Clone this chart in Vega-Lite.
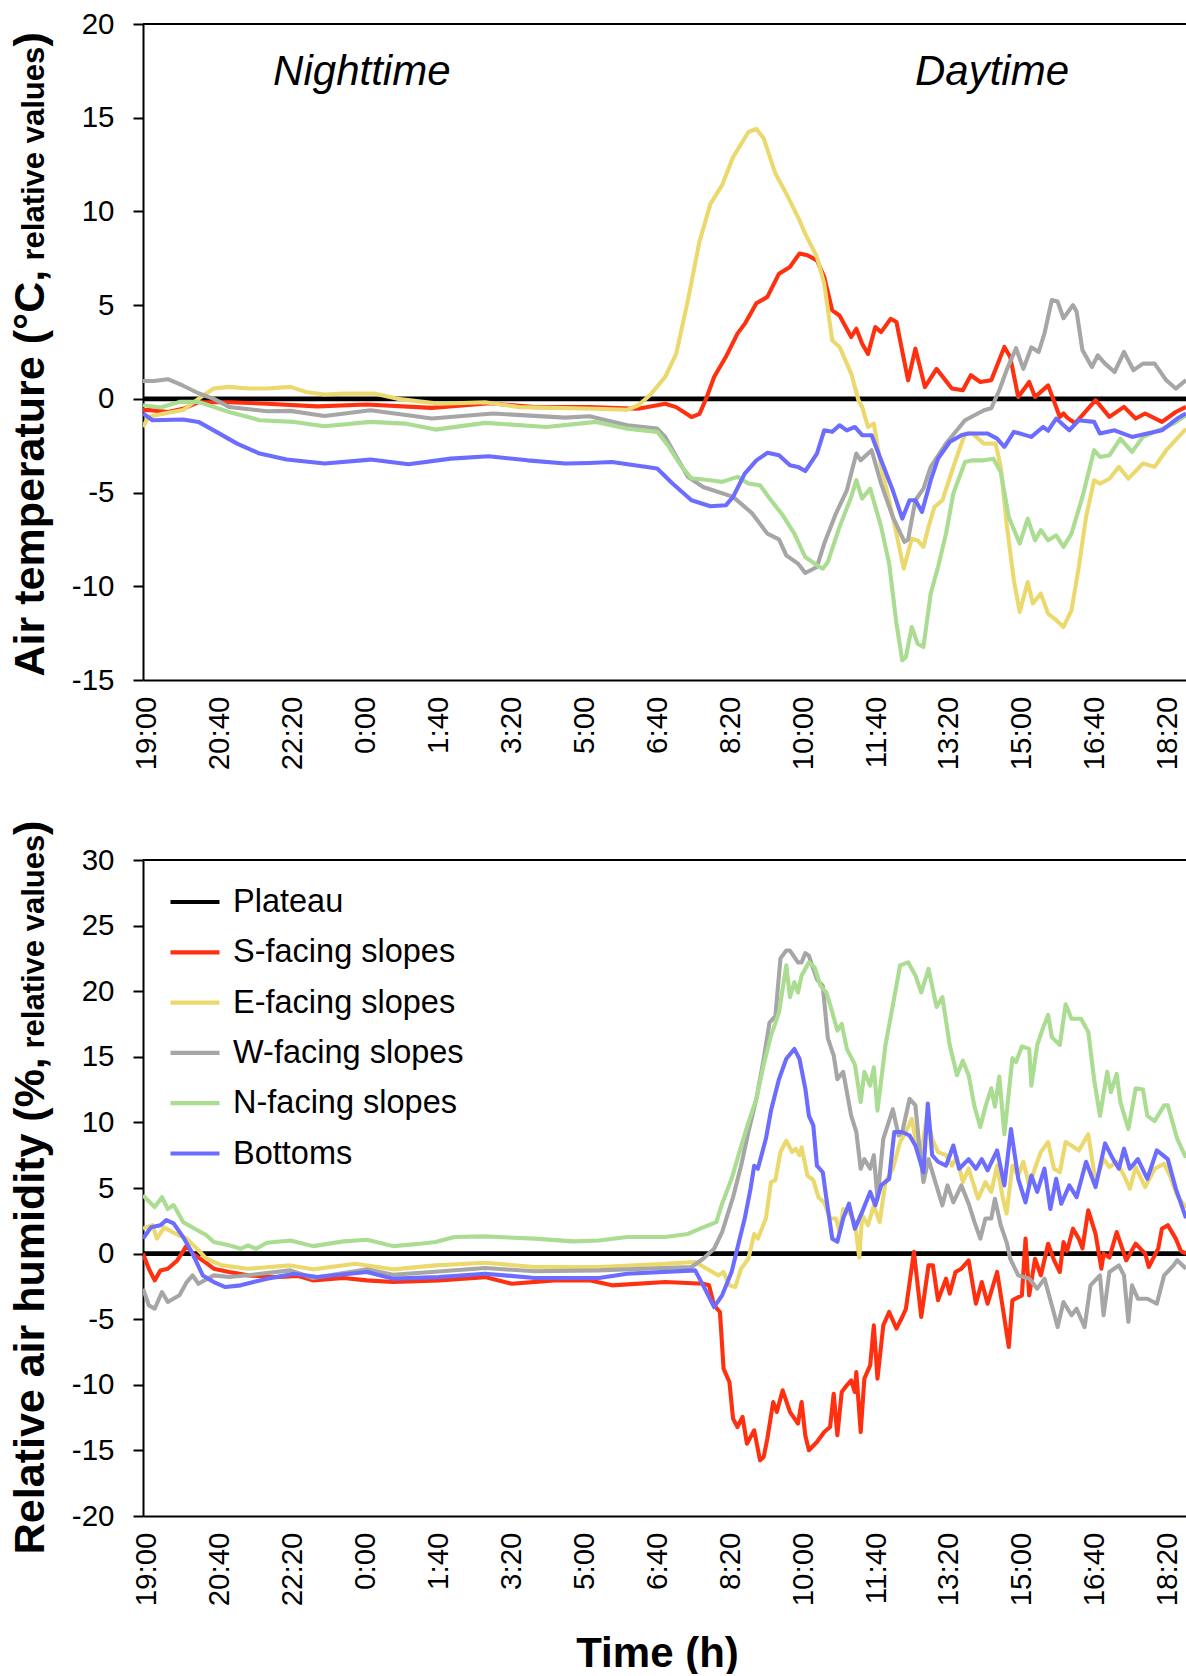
{
"$schema": "https://vega.github.io/schema/vega-lite/v6.json",
"padding": {"left": 9, "top": 9, "right": 0, "bottom": 0},
"spacing": 50,
"config": {"font": "Liberation Sans", "view": {"stroke": null}, "axis": {"labelColor": "black", "titleColor": "black", "grid": false}},
"resolve": {"scale": {"color": "independent"}, "legend": {"color": "independent"}},
"datasets": {
"temp": [
{"s":"P","t":-5,"v":0},{"s":"P","t":1425,"v":0},
{"s":"S","t":-5,"v":-0.6},{"s":"S","t":5,"v":-0.6},{"s":"S","t":29,"v":-0.7},{"s":"S","t":50,"v":-0.53},{"s":"S","t":71,"v":-0.18},{"s":"S","t":113,"v":-0.18},{"s":"S","t":165,"v":-0.26},{"s":"S","t":234,"v":-0.4},{"s":"S","t":302,"v":-0.3},{"s":"S","t":391,"v":-0.48},{"s":"S","t":470,"v":-0.23},{"s":"S","t":532,"v":-0.44},{"s":"S","t":607,"v":-0.44},{"s":"S","t":674,"v":-0.53},{"s":"S","t":711,"v":-0.26},{"s":"S","t":726,"v":-0.44},{"s":"S","t":747,"v":-0.97},{"s":"S","t":758,"v":-0.8},{"s":"S","t":768,"v":0.1},{"s":"S","t":778,"v":1.17},{"s":"S","t":794,"v":2.23},{"s":"S","t":810,"v":3.48},{"s":"S","t":820,"v":4.0},{"s":"S","t":836,"v":5.1},{"s":"S","t":851,"v":5.44},{"s":"S","t":867,"v":6.68},{"s":"S","t":882,"v":7.04},{"s":"S","t":895,"v":7.75},{"s":"S","t":906,"v":7.66},{"s":"S","t":919,"v":7.39},{"s":"S","t":929,"v":6.5},{"s":"S","t":940,"v":4.72},{"s":"S","t":950,"v":4.45},{"s":"S","t":966,"v":3.3},{"s":"S","t":973,"v":3.74},{"s":"S","t":981,"v":2.94},{"s":"S","t":989,"v":2.4},{"s":"S","t":999,"v":3.83},{"s":"S","t":1007,"v":3.56},{"s":"S","t":1020,"v":4.27},{"s":"S","t":1028,"v":4.1},{"s":"S","t":1044,"v":0.99},{"s":"S","t":1054,"v":2.68},{"s":"S","t":1067,"v":0.63},{"s":"S","t":1083,"v":1.6},{"s":"S","t":1104,"v":0.55},{"s":"S","t":1119,"v":0.46},{"s":"S","t":1130,"v":1.26},{"s":"S","t":1143,"v":0.9},{"s":"S","t":1158,"v":0.99},{"s":"S","t":1176,"v":2.77},{"s":"S","t":1184,"v":2.23},{"s":"S","t":1195,"v":0.1},{"s":"S","t":1210,"v":0.9},{"s":"S","t":1218,"v":0.1},{"s":"S","t":1236,"v":0.72},{"s":"S","t":1252,"v":-0.97},{"s":"S","t":1257,"v":-0.78},{"s":"S","t":1262,"v":-1.0},{"s":"S","t":1273,"v":-1.3},{"s":"S","t":1283,"v":-0.87},{"s":"S","t":1301,"v":-0.07},{"s":"S","t":1320,"v":-0.96},{"s":"S","t":1340,"v":-0.43},{"s":"S","t":1356,"v":-1.05},{"s":"S","t":1369,"v":-0.78},{"s":"S","t":1392,"v":-1.23},{"s":"S","t":1411,"v":-0.7},{"s":"S","t":1425,"v":-0.43},
{"s":"E","t":-5,"v":-1.5},{"s":"E","t":3,"v":-0.96},{"s":"E","t":24,"v":-0.78},{"s":"E","t":50,"v":-0.6},{"s":"E","t":71,"v":0},{"s":"E","t":92,"v":0.55},{"s":"E","t":113,"v":0.64},{"s":"E","t":139,"v":0.55},{"s":"E","t":165,"v":0.55},{"s":"E","t":197,"v":0.64},{"s":"E","t":218,"v":0.37},{"s":"E","t":244,"v":0.23},{"s":"E","t":270,"v":0.28},{"s":"E","t":312,"v":0.28},{"s":"E","t":344,"v":0.0},{"s":"E","t":402,"v":-0.26},{"s":"E","t":464,"v":-0.18},{"s":"E","t":511,"v":-0.44},{"s":"E","t":616,"v":-0.53},{"s":"E","t":659,"v":-0.58},{"s":"E","t":674,"v":-0.34},{"s":"E","t":690,"v":0.19},{"s":"E","t":711,"v":1.17},{"s":"E","t":726,"v":2.4},{"s":"E","t":742,"v":5.24},{"s":"E","t":758,"v":8.4},{"s":"E","t":773,"v":10.4},{"s":"E","t":789,"v":11.4},{"s":"E","t":804,"v":12.9},{"s":"E","t":815,"v":13.6},{"s":"E","t":825,"v":14.24},{"s":"E","t":836,"v":14.4},{"s":"E","t":846,"v":13.9},{"s":"E","t":862,"v":12.02},{"s":"E","t":877,"v":10.95},{"s":"E","t":893,"v":9.7},{"s":"E","t":903,"v":8.8},{"s":"E","t":919,"v":7.57},{"s":"E","t":929,"v":6.14},{"s":"E","t":940,"v":3.12},{"s":"E","t":950,"v":2.77},{"s":"E","t":966,"v":1.35},{"s":"E","t":976,"v":-0.08},{"s":"E","t":981,"v":-0.43},{"s":"E","t":989,"v":-1.5},{"s":"E","t":997,"v":-1.32},{"s":"E","t":1007,"v":-3.63},{"s":"E","t":1018,"v":-5.41},{"s":"E","t":1028,"v":-7.19},{"s":"E","t":1038,"v":-9.06},{"s":"E","t":1049,"v":-7.46},{"s":"E","t":1057,"v":-7.55},{"s":"E","t":1065,"v":-7.9},{"s":"E","t":1072,"v":-6.83},{"s":"E","t":1080,"v":-5.77},{"s":"E","t":1091,"v":-5.41},{"s":"E","t":1106,"v":-3.63},{"s":"E","t":1122,"v":-1.85},{"s":"E","t":1132,"v":-1.85},{"s":"E","t":1148,"v":-2.39},{"s":"E","t":1164,"v":-2.39},{"s":"E","t":1171,"v":-3.63},{"s":"E","t":1179,"v":-6.65},{"s":"E","t":1189,"v":-9.68},{"s":"E","t":1197,"v":-11.37},{"s":"E","t":1208,"v":-9.77},{"s":"E","t":1215,"v":-10.92},{"s":"E","t":1226,"v":-10.39},{"s":"E","t":1236,"v":-11.46},{"s":"E","t":1247,"v":-11.8},{"s":"E","t":1257,"v":-12.17},{"s":"E","t":1268,"v":-11.28},{"s":"E","t":1278,"v":-8.97},{"s":"E","t":1288,"v":-6.3},{"s":"E","t":1299,"v":-4.34},{"s":"E","t":1307,"v":-4.52},{"s":"E","t":1320,"v":-4.26},{"s":"E","t":1333,"v":-3.63},{"s":"E","t":1346,"v":-4.26},{"s":"E","t":1366,"v":-3.45},{"s":"E","t":1382,"v":-3.63},{"s":"E","t":1398,"v":-2.74},{"s":"E","t":1425,"v":-1.6},
{"s":"W","t":-5,"v":0.95},{"s":"W","t":10,"v":0.95},{"s":"W","t":29,"v":1.05},{"s":"W","t":50,"v":0.7},{"s":"W","t":71,"v":0.3},{"s":"W","t":92,"v":0.0},{"s":"W","t":113,"v":-0.43},{"s":"W","t":165,"v":-0.66},{"s":"W","t":197,"v":-0.64},{"s":"W","t":244,"v":-0.91},{"s":"W","t":307,"v":-0.61},{"s":"W","t":391,"v":-1.05},{"s":"W","t":475,"v":-0.78},{"s":"W","t":574,"v":-1.0},{"s":"W","t":607,"v":-0.93},{"s":"W","t":659,"v":-1.41},{"s":"W","t":700,"v":-1.59},{"s":"W","t":711,"v":-2.03},{"s":"W","t":742,"v":-4.16},{"s":"W","t":763,"v":-4.7},{"s":"W","t":804,"v":-5.23},{"s":"W","t":830,"v":-6.1},{"s":"W","t":851,"v":-7.19},{"s":"W","t":867,"v":-7.5},{"s":"W","t":877,"v":-8.35},{"s":"W","t":893,"v":-8.79},{"s":"W","t":903,"v":-9.29},{"s":"W","t":919,"v":-8.97},{"s":"W","t":929,"v":-7.72},{"s":"W","t":945,"v":-6.12},{"s":"W","t":960,"v":-4.88},{"s":"W","t":973,"v":-2.92},{"s":"W","t":979,"v":-3.28},{"s":"W","t":994,"v":-2.74},{"s":"W","t":1007,"v":-4.52},{"s":"W","t":1023,"v":-6.3},{"s":"W","t":1039,"v":-7.63},{"s":"W","t":1044,"v":-7.5},{"s":"W","t":1054,"v":-5.41},{"s":"W","t":1065,"v":-4.79},{"s":"W","t":1075,"v":-3.63},{"s":"W","t":1096,"v":-2.39},{"s":"W","t":1122,"v":-1.14},{"s":"W","t":1148,"v":-0.61},{"s":"W","t":1158,"v":-0.5},{"s":"W","t":1169,"v":0.46},{"s":"W","t":1179,"v":1.53},{"s":"W","t":1192,"v":2.7},{"s":"W","t":1202,"v":1.6},{"s":"W","t":1213,"v":2.75},{"s":"W","t":1223,"v":2.5},{"s":"W","t":1231,"v":3.5},{"s":"W","t":1241,"v":5.27},{"s":"W","t":1249,"v":5.19},{"s":"W","t":1257,"v":4.3},{"s":"W","t":1270,"v":5.0},{"s":"W","t":1275,"v":4.66},{"s":"W","t":1283,"v":2.6},{"s":"W","t":1296,"v":1.7},{"s":"W","t":1304,"v":2.32},{"s":"W","t":1314,"v":1.88},{"s":"W","t":1327,"v":1.43},{"s":"W","t":1340,"v":2.5},{"s":"W","t":1353,"v":1.53},{"s":"W","t":1366,"v":1.88},{"s":"W","t":1382,"v":1.88},{"s":"W","t":1398,"v":0.99},{"s":"W","t":1411,"v":0.55},{"s":"W","t":1425,"v":1.0},
{"s":"N","t":-5,"v":-0.34},{"s":"N","t":19,"v":-0.46},{"s":"N","t":45,"v":-0.16},{"s":"N","t":71,"v":-0.16},{"s":"N","t":113,"v":-0.7},{"s":"N","t":155,"v":-1.14},{"s":"N","t":202,"v":-1.23},{"s":"N","t":244,"v":-1.46},{"s":"N","t":307,"v":-1.23},{"s":"N","t":354,"v":-1.32},{"s":"N","t":396,"v":-1.64},{"s":"N","t":464,"v":-1.28},{"s":"N","t":548,"v":-1.5},{"s":"N","t":616,"v":-1.23},{"s":"N","t":659,"v":-1.59},{"s":"N","t":700,"v":-1.76},{"s":"N","t":716,"v":-2.56},{"s":"N","t":732,"v":-3.54},{"s":"N","t":747,"v":-4.24},{"s":"N","t":773,"v":-4.34},{"s":"N","t":789,"v":-4.43},{"s":"N","t":810,"v":-4.16},{"s":"N","t":825,"v":-4.52},{"s":"N","t":841,"v":-4.61},{"s":"N","t":856,"v":-5.41},{"s":"N","t":872,"v":-6.2},{"s":"N","t":888,"v":-7.19},{"s":"N","t":903,"v":-8.44},{"s":"N","t":919,"v":-8.88},{"s":"N","t":927,"v":-9.06},{"s":"N","t":934,"v":-8.7},{"s":"N","t":950,"v":-6.83},{"s":"N","t":966,"v":-5.23},{"s":"N","t":973,"v":-4.34},{"s":"N","t":981,"v":-5.32},{"s":"N","t":992,"v":-4.79},{"s":"N","t":1007,"v":-6.83},{"s":"N","t":1018,"v":-8.79},{"s":"N","t":1028,"v":-11.99},{"s":"N","t":1036,"v":-13.95},{"s":"N","t":1041,"v":-13.77},{"s":"N","t":1049,"v":-12.17},{"s":"N","t":1057,"v":-13.06},{"s":"N","t":1065,"v":-13.24},{"s":"N","t":1075,"v":-10.39},{"s":"N","t":1085,"v":-8.97},{"s":"N","t":1096,"v":-7.19},{"s":"N","t":1106,"v":-5.05},{"s":"N","t":1122,"v":-3.37},{"s":"N","t":1132,"v":-3.28},{"s":"N","t":1148,"v":-3.28},{"s":"N","t":1161,"v":-3.19},{"s":"N","t":1171,"v":-3.9},{"s":"N","t":1182,"v":-6.3},{"s":"N","t":1197,"v":-7.72},{"s":"N","t":1208,"v":-6.39},{"s":"N","t":1218,"v":-7.55},{"s":"N","t":1226,"v":-7.0},{"s":"N","t":1236,"v":-7.55},{"s":"N","t":1247,"v":-7.28},{"s":"N","t":1257,"v":-7.9},{"s":"N","t":1268,"v":-7.19},{"s":"N","t":1283,"v":-5.23},{"s":"N","t":1299,"v":-2.74},{"s":"N","t":1307,"v":-3.1},{"s":"N","t":1320,"v":-3.01},{"s":"N","t":1335,"v":-2.12},{"s":"N","t":1351,"v":-2.83},{"s":"N","t":1366,"v":-2.03},{"s":"N","t":1387,"v":-1.68},{"s":"N","t":1408,"v":-1.32},{"s":"N","t":1425,"v":-0.87},
{"s":"B","t":-5,"v":-0.78},{"s":"B","t":8,"v":-1.14},{"s":"B","t":50,"v":-1.1},{"s":"B","t":71,"v":-1.23},{"s":"B","t":92,"v":-1.68},{"s":"B","t":124,"v":-2.39},{"s":"B","t":155,"v":-2.92},{"s":"B","t":192,"v":-3.24},{"s":"B","t":244,"v":-3.45},{"s":"B","t":307,"v":-3.24},{"s":"B","t":359,"v":-3.49},{"s":"B","t":417,"v":-3.19},{"s":"B","t":469,"v":-3.06},{"s":"B","t":522,"v":-3.28},{"s":"B","t":574,"v":-3.45},{"s":"B","t":607,"v":-3.42},{"s":"B","t":638,"v":-3.37},{"s":"B","t":700,"v":-3.72},{"s":"B","t":721,"v":-4.52},{"s":"B","t":747,"v":-5.41},{"s":"B","t":773,"v":-5.73},{"s":"B","t":794,"v":-5.68},{"s":"B","t":804,"v":-5.23},{"s":"B","t":820,"v":-3.99},{"s":"B","t":836,"v":-3.28},{"s":"B","t":851,"v":-2.88},{"s":"B","t":867,"v":-3.01},{"s":"B","t":882,"v":-3.54},{"s":"B","t":893,"v":-3.63},{"s":"B","t":903,"v":-3.85},{"s":"B","t":919,"v":-2.92},{"s":"B","t":929,"v":-1.68},{"s":"B","t":940,"v":-1.76},{"s":"B","t":950,"v":-1.41},{"s":"B","t":960,"v":-1.68},{"s":"B","t":971,"v":-1.5},{"s":"B","t":981,"v":-1.94},{"s":"B","t":994,"v":-1.94},{"s":"B","t":1007,"v":-3.28},{"s":"B","t":1023,"v":-4.88},{"s":"B","t":1036,"v":-6.39},{"s":"B","t":1046,"v":-5.41},{"s":"B","t":1054,"v":-5.41},{"s":"B","t":1063,"v":-6.03},{"s":"B","t":1075,"v":-4.34},{"s":"B","t":1085,"v":-3.19},{"s":"B","t":1101,"v":-2.3},{"s":"B","t":1117,"v":-1.94},{"s":"B","t":1127,"v":-1.85},{"s":"B","t":1153,"v":-1.85},{"s":"B","t":1166,"v":-2.12},{"s":"B","t":1176,"v":-2.56},{"s":"B","t":1189,"v":-1.76},{"s":"B","t":1213,"v":-2.03},{"s":"B","t":1229,"v":-1.5},{"s":"B","t":1236,"v":-1.7},{"s":"B","t":1247,"v":-1.05},{"s":"B","t":1265,"v":-1.68},{"s":"B","t":1278,"v":-1.14},{"s":"B","t":1299,"v":-1.23},{"s":"B","t":1307,"v":-1.85},{"s":"B","t":1327,"v":-1.68},{"s":"B","t":1351,"v":-2.03},{"s":"B","t":1372,"v":-1.85},{"s":"B","t":1392,"v":-1.68},{"s":"B","t":1413,"v":-1.05},{"s":"B","t":1425,"v":-0.78}
],
"hum": [
{"s":"P","t":-5,"v":0},{"s":"P","t":1425,"v":0},
{"s":"S","t":-5,"v":0},{"s":"S","t":3,"v":-1.15},{"s":"S","t":11,"v":-2.04},{"s":"S","t":19,"v":-1.28},{"s":"S","t":29,"v":-1.15},{"s":"S","t":42,"v":-0.52},{"s":"S","t":55,"v":0.63},{"s":"S","t":63,"v":0},{"s":"S","t":77,"v":-0.52},{"s":"S","t":92,"v":-1.15},{"s":"S","t":113,"v":-1.4},{"s":"S","t":139,"v":-1.66},{"s":"S","t":176,"v":-1.79},{"s":"S","t":208,"v":-1.71},{"s":"S","t":228,"v":-2.04},{"s":"S","t":270,"v":-1.86},{"s":"S","t":302,"v":-2.04},{"s":"S","t":338,"v":-2.17},{"s":"S","t":401,"v":-2.04},{"s":"S","t":464,"v":-1.79},{"s":"S","t":501,"v":-2.3},{"s":"S","t":559,"v":-2.04},{"s":"S","t":607,"v":-2.04},{"s":"S","t":638,"v":-2.42},{"s":"S","t":711,"v":-2.17},{"s":"S","t":763,"v":-2.3},{"s":"S","t":771,"v":-2.42},{"s":"S","t":778,"v":-3.94},{"s":"S","t":786,"v":-4.45},{"s":"S","t":791,"v":-8.77},{"s":"S","t":799,"v":-9.79},{"s":"S","t":804,"v":-12.58},{"s":"S","t":810,"v":-13.22},{"s":"S","t":817,"v":-12.45},{"s":"S","t":823,"v":-14.49},{"s":"S","t":833,"v":-13.47},{"s":"S","t":841,"v":-15.76},{"s":"S","t":846,"v":-15.5},{"s":"S","t":851,"v":-14.1},{"s":"S","t":859,"v":-11.31},{"s":"S","t":864,"v":-12.07},{"s":"S","t":872,"v":-10.42},{"s":"S","t":882,"v":-12.07},{"s":"S","t":893,"v":-12.96},{"s":"S","t":898,"v":-11.31},{"s":"S","t":903,"v":-13.85},{"s":"S","t":908,"v":-14.99},{"s":"S","t":919,"v":-14.36},{"s":"S","t":929,"v":-13.6},{"s":"S","t":937,"v":-13.22},{"s":"S","t":942,"v":-10.68},{"s":"S","t":947,"v":-13.85},{"s":"S","t":953,"v":-10.55},{"s":"S","t":960,"v":-10.04},{"s":"S","t":966,"v":-9.66},{"s":"S","t":971,"v":-10.55},{"s":"S","t":973,"v":-9.03},{"s":"S","t":979,"v":-13.6},{"s":"S","t":984,"v":-9.53},{"s":"S","t":992,"v":-8.52},{"s":"S","t":997,"v":-5.47},{"s":"S","t":1002,"v":-9.53},{"s":"S","t":1010,"v":-5.47},{"s":"S","t":1018,"v":-4.45},{"s":"S","t":1028,"v":-5.72},{"s":"S","t":1036,"v":-4.83},{"s":"S","t":1041,"v":-4.2},{"s":"S","t":1052,"v":0.13},{"s":"S","t":1062,"v":-4.83},{"s":"S","t":1072,"v":-0.9},{"s":"S","t":1078,"v":-0.9},{"s":"S","t":1085,"v":-3.56},{"s":"S","t":1096,"v":-1.91},{"s":"S","t":1101,"v":-3.05},{"s":"S","t":1109,"v":-1.4},{"s":"S","t":1117,"v":-1.15},{"s":"S","t":1127,"v":-0.52},{"s":"S","t":1137,"v":-3.82},{"s":"S","t":1145,"v":-2.17},{"s":"S","t":1153,"v":-3.82},{"s":"S","t":1166,"v":-1.4},{"s":"S","t":1174,"v":-4.2},{"s":"S","t":1182,"v":-7.12},{"s":"S","t":1187,"v":-3.56},{"s":"S","t":1200,"v":-3.18},{"s":"S","t":1205,"v":1.14},{"s":"S","t":1210,"v":-3.18},{"s":"S","t":1218,"v":-0.39},{"s":"S","t":1226,"v":-1.66},{"s":"S","t":1236,"v":0.75},{"s":"S","t":1244,"v":-0.5},{"s":"S","t":1252,"v":-1.4},{"s":"S","t":1257,"v":0.88},{"s":"S","t":1262,"v":0.2},{"s":"S","t":1270,"v":1.9},{"s":"S","t":1278,"v":1.14},{"s":"S","t":1283,"v":0.4},{"s":"S","t":1291,"v":3.3},{"s":"S","t":1301,"v":1.5},{"s":"S","t":1309,"v":-1.15},{"s":"S","t":1312,"v":0},{"s":"S","t":1320,"v":-0.3},{"s":"S","t":1330,"v":1.64},{"s":"S","t":1340,"v":0},{"s":"S","t":1343,"v":-0.52},{"s":"S","t":1356,"v":0.75},{"s":"S","t":1369,"v":0},{"s":"S","t":1374,"v":-1.02},{"s":"S","t":1387,"v":0.4},{"s":"S","t":1392,"v":1.9},{"s":"S","t":1400,"v":2.17},{"s":"S","t":1411,"v":1.14},{"s":"S","t":1418,"v":0.2},{"s":"S","t":1425,"v":0},
{"s":"E","t":-5,"v":1.9},{"s":"E","t":8,"v":2.17},{"s":"E","t":14,"v":1.14},{"s":"E","t":24,"v":2.0},{"s":"E","t":40,"v":1.5},{"s":"E","t":55,"v":1.14},{"s":"E","t":69,"v":0.37},{"s":"E","t":82,"v":-0.39},{"s":"E","t":103,"v":-0.9},{"s":"E","t":139,"v":-1.15},{"s":"E","t":197,"v":-0.9},{"s":"E","t":228,"v":-1.2},{"s":"E","t":286,"v":-0.77},{"s":"E","t":338,"v":-1.2},{"s":"E","t":396,"v":-0.9},{"s":"E","t":464,"v":-0.7},{"s":"E","t":532,"v":-1.02},{"s":"E","t":620,"v":-1.02},{"s":"E","t":711,"v":-0.77},{"s":"E","t":752,"v":-0.64},{"s":"E","t":768,"v":-1.15},{"s":"E","t":784,"v":-1.66},{"s":"E","t":791,"v":-1.4},{"s":"E","t":799,"v":-2.42},{"s":"E","t":807,"v":-2.55},{"s":"E","t":815,"v":-1.15},{"s":"E","t":825,"v":-0.39},{"s":"E","t":833,"v":1.5},{"s":"E","t":838,"v":1.14},{"s":"E","t":849,"v":2.67},{"s":"E","t":856,"v":5.45},{"s":"E","t":862,"v":5.6},{"s":"E","t":869,"v":7.74},{"s":"E","t":877,"v":8.6},{"s":"E","t":885,"v":7.74},{"s":"E","t":890,"v":8.0},{"s":"E","t":895,"v":7.5},{"s":"E","t":898,"v":8.1},{"s":"E","t":906,"v":5.95},{"s":"E","t":914,"v":5.6},{"s":"E","t":921,"v":4.3},{"s":"E","t":929,"v":3.9},{"s":"E","t":937,"v":2.67},{"s":"E","t":945,"v":2.67},{"s":"E","t":950,"v":1.64},{"s":"E","t":955,"v":3.4},{"s":"E","t":963,"v":3.18},{"s":"E","t":971,"v":2.4},{"s":"E","t":977,"v":-0.3},{"s":"E","t":981,"v":2.92},{"s":"E","t":989,"v":2.16},{"s":"E","t":997,"v":3.68},{"s":"E","t":1005,"v":2.4},{"s":"E","t":1013,"v":5.45},{"s":"E","t":1023,"v":6.47},{"s":"E","t":1033,"v":8.5},{"s":"E","t":1041,"v":9.27},{"s":"E","t":1049,"v":10.27},{"s":"E","t":1054,"v":8.75},{"s":"E","t":1062,"v":7.74},{"s":"E","t":1070,"v":10.5},{"s":"E","t":1077,"v":8.75},{"s":"E","t":1085,"v":7.74},{"s":"E","t":1096,"v":7.5},{"s":"E","t":1104,"v":6.7},{"s":"E","t":1111,"v":7.35},{"s":"E","t":1119,"v":5.45},{"s":"E","t":1127,"v":6.47},{"s":"E","t":1140,"v":4.18},{"s":"E","t":1150,"v":5.45},{"s":"E","t":1158,"v":4.7},{"s":"E","t":1166,"v":6.7},{"s":"E","t":1174,"v":4.18},{"s":"E","t":1179,"v":3.05},{"s":"E","t":1187,"v":6.7},{"s":"E","t":1195,"v":5.95},{"s":"E","t":1202,"v":7.0},{"s":"E","t":1210,"v":5.2},{"s":"E","t":1221,"v":7.0},{"s":"E","t":1226,"v":7.74},{"s":"E","t":1236,"v":8.5},{"s":"E","t":1244,"v":6.47},{"s":"E","t":1252,"v":6.2},{"s":"E","t":1260,"v":8.5},{"s":"E","t":1268,"v":8.24},{"s":"E","t":1278,"v":7.86},{"s":"E","t":1291,"v":9.1},{"s":"E","t":1301,"v":5.45},{"s":"E","t":1312,"v":7.2},{"s":"E","t":1320,"v":6.6},{"s":"E","t":1330,"v":7.0},{"s":"E","t":1340,"v":5.95},{"s":"E","t":1348,"v":4.95},{"s":"E","t":1356,"v":6.6},{"s":"E","t":1369,"v":5.07},{"s":"E","t":1382,"v":6.47},{"s":"E","t":1395,"v":6.85},{"s":"E","t":1403,"v":5.95},{"s":"E","t":1413,"v":4.43},{"s":"E","t":1425,"v":3.5},
{"s":"W","t":-5,"v":-2.67},{"s":"W","t":3,"v":-3.94},{"s":"W","t":11,"v":-4.2},{"s":"W","t":21,"v":-2.93},{"s":"W","t":29,"v":-3.69},{"s":"W","t":45,"v":-3.18},{"s":"W","t":55,"v":-2.17},{"s":"W","t":63,"v":-1.66},{"s":"W","t":71,"v":-2.3},{"s":"W","t":92,"v":-1.66},{"s":"W","t":113,"v":-1.79},{"s":"W","t":145,"v":-1.61},{"s":"W","t":197,"v":-1.28},{"s":"W","t":228,"v":-1.86},{"s":"W","t":302,"v":-1.2},{"s":"W","t":338,"v":-1.61},{"s":"W","t":391,"v":-1.4},{"s":"W","t":464,"v":-1.1},{"s":"W","t":532,"v":-1.35},{"s":"W","t":620,"v":-1.28},{"s":"W","t":747,"v":-1.02},{"s":"W","t":763,"v":-0.39},{"s":"W","t":778,"v":0.37},{"s":"W","t":789,"v":1.64},{"s":"W","t":804,"v":4.3},{"s":"W","t":815,"v":6.7},{"s":"W","t":825,"v":9.27},{"s":"W","t":836,"v":11.8},{"s":"W","t":846,"v":14.85},{"s":"W","t":854,"v":17.6},{"s":"W","t":862,"v":18.1},{"s":"W","t":869,"v":22.5},{"s":"W","t":877,"v":23.1},{"s":"W","t":882,"v":23.1},{"s":"W","t":893,"v":22.2},{"s":"W","t":898,"v":22.2},{"s":"W","t":903,"v":22.9},{"s":"W","t":908,"v":22.7},{"s":"W","t":919,"v":20.9},{"s":"W","t":927,"v":20.4},{"s":"W","t":934,"v":16.4},{"s":"W","t":942,"v":15.1},{"s":"W","t":947,"v":13.3},{"s":"W","t":955,"v":13.85},{"s":"W","t":966,"v":10.5},{"s":"W","t":973,"v":9.27},{"s":"W","t":979,"v":6.47},{"s":"W","t":984,"v":7.2},{"s":"W","t":992,"v":6.47},{"s":"W","t":997,"v":7.5},{"s":"W","t":1002,"v":4.18},{"s":"W","t":1010,"v":8.75},{"s":"W","t":1023,"v":11.0},{"s":"W","t":1031,"v":9.0},{"s":"W","t":1036,"v":9.27},{"s":"W","t":1046,"v":11.8},{"s":"W","t":1054,"v":11.3},{"s":"W","t":1059,"v":8.4},{"s":"W","t":1065,"v":5.45},{"s":"W","t":1072,"v":7.2},{"s":"W","t":1080,"v":5.7},{"s":"W","t":1091,"v":3.68},{"s":"W","t":1098,"v":5.2},{"s":"W","t":1106,"v":3.9},{"s":"W","t":1117,"v":5.2},{"s":"W","t":1127,"v":3.8},{"s":"W","t":1135,"v":2.4},{"s":"W","t":1143,"v":1.14},{"s":"W","t":1150,"v":2.67},{"s":"W","t":1158,"v":2.67},{"s":"W","t":1163,"v":4.18},{"s":"W","t":1171,"v":2.16},{"s":"W","t":1179,"v":0.88},{"s":"W","t":1184,"v":-0.39},{"s":"W","t":1195,"v":-1.66},{"s":"W","t":1210,"v":-1.91},{"s":"W","t":1221,"v":-2.67},{"s":"W","t":1231,"v":-1.91},{"s":"W","t":1241,"v":-3.94},{"s":"W","t":1249,"v":-5.6},{"s":"W","t":1257,"v":-3.69},{"s":"W","t":1268,"v":-4.7},{"s":"W","t":1275,"v":-4.2},{"s":"W","t":1286,"v":-5.6},{"s":"W","t":1294,"v":-2.42},{"s":"W","t":1307,"v":-1.66},{"s":"W","t":1312,"v":-4.7},{"s":"W","t":1320,"v":-1.4},{"s":"W","t":1333,"v":-0.9},{"s":"W","t":1340,"v":-1.66},{"s":"W","t":1346,"v":-5.2},{"s":"W","t":1351,"v":-2.42},{"s":"W","t":1359,"v":-3.44},{"s":"W","t":1372,"v":-3.44},{"s":"W","t":1385,"v":-3.82},{"s":"W","t":1395,"v":-1.66},{"s":"W","t":1408,"v":-0.9},{"s":"W","t":1413,"v":-0.5},{"s":"W","t":1425,"v":-1.15},
{"s":"N","t":-5,"v":4.44},{"s":"N","t":11,"v":3.55},{"s":"N","t":21,"v":4.3},{"s":"N","t":29,"v":3.4},{"s":"N","t":37,"v":3.7},{"s":"N","t":50,"v":2.4},{"s":"N","t":66,"v":1.9},{"s":"N","t":82,"v":1.4},{"s":"N","t":92,"v":0.88},{"s":"N","t":113,"v":0.63},{"s":"N","t":129,"v":0.37},{"s":"N","t":139,"v":0.63},{"s":"N","t":150,"v":0.37},{"s":"N","t":165,"v":0.83},{"s":"N","t":197,"v":1.0},{"s":"N","t":228,"v":0.57},{"s":"N","t":270,"v":0.93},{"s":"N","t":302,"v":1.06},{"s":"N","t":338,"v":0.57},{"s":"N","t":375,"v":0.75},{"s":"N","t":396,"v":0.88},{"s":"N","t":422,"v":1.26},{"s":"N","t":464,"v":1.31},{"s":"N","t":532,"v":1.14},{"s":"N","t":585,"v":0.93},{"s":"N","t":620,"v":1.0},{"s":"N","t":659,"v":1.26},{"s":"N","t":711,"v":1.26},{"s":"N","t":742,"v":1.5},{"s":"N","t":763,"v":2.0},{"s":"N","t":781,"v":2.4},{"s":"N","t":789,"v":3.8},{"s":"N","t":802,"v":5.7},{"s":"N","t":812,"v":7.6},{"s":"N","t":825,"v":10.0},{"s":"N","t":836,"v":11.8},{"s":"N","t":846,"v":14.4},{"s":"N","t":856,"v":16.6},{"s":"N","t":867,"v":18.4},{"s":"N","t":877,"v":21.97},{"s":"N","t":882,"v":19.55},{"s":"N","t":888,"v":20.7},{"s":"N","t":893,"v":19.9},{"s":"N","t":898,"v":21.2},{"s":"N","t":908,"v":22.2},{"s":"N","t":916,"v":21.8},{"s":"N","t":924,"v":20.4},{"s":"N","t":932,"v":19.9},{"s":"N","t":940,"v":18.4},{"s":"N","t":947,"v":17.0},{"s":"N","t":953,"v":17.5},{"s":"N","t":960,"v":15.6},{"s":"N","t":971,"v":14.4},{"s":"N","t":979,"v":11.55},{"s":"N","t":984,"v":13.85},{"s":"N","t":992,"v":12.8},{"s":"N","t":997,"v":14.2},{"s":"N","t":1002,"v":10.9},{"s":"N","t":1013,"v":15.9},{"s":"N","t":1023,"v":18.9},{"s":"N","t":1033,"v":21.97},{"s":"N","t":1044,"v":22.2},{"s":"N","t":1054,"v":21.2},{"s":"N","t":1062,"v":19.9},{"s":"N","t":1072,"v":21.7},{"s":"N","t":1083,"v":18.8},{"s":"N","t":1091,"v":19.55},{"s":"N","t":1101,"v":15.9},{"s":"N","t":1111,"v":13.6},{"s":"N","t":1119,"v":14.7},{"s":"N","t":1127,"v":13.6},{"s":"N","t":1135,"v":11.2},{"s":"N","t":1143,"v":9.65},{"s":"N","t":1150,"v":11.2},{"s":"N","t":1158,"v":12.6},{"s":"N","t":1163,"v":11.2},{"s":"N","t":1169,"v":13.5},{"s":"N","t":1176,"v":9.1},{"s":"N","t":1187,"v":14.9},{"s":"N","t":1192,"v":14.6},{"s":"N","t":1200,"v":15.8},{"s":"N","t":1210,"v":15.6},{"s":"N","t":1213,"v":12.8},{"s":"N","t":1221,"v":15.9},{"s":"N","t":1229,"v":17.2},{"s":"N","t":1236,"v":18.2},{"s":"N","t":1241,"v":16.5},{"s":"N","t":1252,"v":15.9},{"s":"N","t":1260,"v":19.0},{"s":"N","t":1268,"v":17.9},{"s":"N","t":1281,"v":17.9},{"s":"N","t":1291,"v":16.9},{"s":"N","t":1299,"v":13.3},{"s":"N","t":1307,"v":10.5},{"s":"N","t":1317,"v":13.85},{"s":"N","t":1322,"v":12.3},{"s":"N","t":1330,"v":13.7},{"s":"N","t":1335,"v":11.55},{"s":"N","t":1346,"v":9.5},{"s":"N","t":1356,"v":12.6},{"s":"N","t":1366,"v":12.5},{"s":"N","t":1372,"v":10.5},{"s":"N","t":1382,"v":10.1},{"s":"N","t":1395,"v":11.3},{"s":"N","t":1400,"v":11.3},{"s":"N","t":1413,"v":8.75},{"s":"N","t":1425,"v":7.3},
{"s":"B","t":-5,"v":1.14},{"s":"B","t":6,"v":2.0},{"s":"B","t":19,"v":2.17},{"s":"B","t":27,"v":2.55},{"s":"B","t":37,"v":2.3},{"s":"B","t":50,"v":1.26},{"s":"B","t":61,"v":0.2},{"s":"B","t":77,"v":-1.66},{"s":"B","t":92,"v":-2.17},{"s":"B","t":108,"v":-2.55},{"s":"B","t":129,"v":-2.42},{"s":"B","t":165,"v":-1.91},{"s":"B","t":202,"v":-1.53},{"s":"B","t":234,"v":-1.79},{"s":"B","t":302,"v":-1.4},{"s":"B","t":338,"v":-1.91},{"s":"B","t":401,"v":-1.79},{"s":"B","t":464,"v":-1.53},{"s":"B","t":532,"v":-1.86},{"s":"B","t":620,"v":-1.86},{"s":"B","t":659,"v":-1.53},{"s":"B","t":752,"v":-1.28},{"s":"B","t":763,"v":-2.42},{"s":"B","t":778,"v":-4.07},{"s":"B","t":789,"v":-3.18},{"s":"B","t":802,"v":-1.4},{"s":"B","t":812,"v":0.88},{"s":"B","t":820,"v":2.67},{"s":"B","t":828,"v":4.95},{"s":"B","t":833,"v":6.7},{"s":"B","t":838,"v":6.47},{"s":"B","t":849,"v":8.75},{"s":"B","t":856,"v":10.9},{"s":"B","t":867,"v":13.3},{"s":"B","t":877,"v":14.85},{"s":"B","t":888,"v":15.6},{"s":"B","t":895,"v":14.85},{"s":"B","t":903,"v":12.6},{"s":"B","t":908,"v":10.5},{"s":"B","t":914,"v":9.77},{"s":"B","t":919,"v":6.7},{"s":"B","t":927,"v":6.2},{"s":"B","t":932,"v":4.18},{"s":"B","t":940,"v":1.14},{"s":"B","t":947,"v":0.9},{"s":"B","t":955,"v":2.67},{"s":"B","t":963,"v":3.8},{"s":"B","t":971,"v":1.9},{"s":"B","t":981,"v":3.18},{"s":"B","t":992,"v":4.7},{"s":"B","t":999,"v":3.68},{"s":"B","t":1007,"v":5.2},{"s":"B","t":1018,"v":5.7},{"s":"B","t":1025,"v":9.27},{"s":"B","t":1036,"v":9.27},{"s":"B","t":1046,"v":9.0},{"s":"B","t":1054,"v":8.24},{"s":"B","t":1065,"v":6.2},{"s":"B","t":1071,"v":11.43},{"s":"B","t":1077,"v":7.5},{"s":"B","t":1085,"v":7.0},{"s":"B","t":1096,"v":6.7},{"s":"B","t":1106,"v":8.24},{"s":"B","t":1114,"v":6.47},{"s":"B","t":1127,"v":7.2},{"s":"B","t":1137,"v":6.47},{"s":"B","t":1145,"v":7.2},{"s":"B","t":1153,"v":6.35},{"s":"B","t":1166,"v":7.86},{"s":"B","t":1176,"v":5.2},{"s":"B","t":1185,"v":9.5},{"s":"B","t":1195,"v":5.7},{"s":"B","t":1205,"v":3.9},{"s":"B","t":1213,"v":5.95},{"s":"B","t":1221,"v":4.7},{"s":"B","t":1231,"v":6.47},{"s":"B","t":1239,"v":3.4},{"s":"B","t":1247,"v":5.7},{"s":"B","t":1254,"v":3.8},{"s":"B","t":1265,"v":5.2},{"s":"B","t":1275,"v":4.3},{"s":"B","t":1288,"v":7.0},{"s":"B","t":1301,"v":5.07},{"s":"B","t":1314,"v":8.4},{"s":"B","t":1325,"v":7.2},{"s":"B","t":1333,"v":6.47},{"s":"B","t":1340,"v":8.0},{"s":"B","t":1348,"v":6.47},{"s":"B","t":1359,"v":7.2},{"s":"B","t":1372,"v":5.7},{"s":"B","t":1385,"v":7.86},{"s":"B","t":1400,"v":7.2},{"s":"B","t":1411,"v":4.95},{"s":"B","t":1425,"v":2.7}
],
"notes": [{"t":295,"v":16.73,"label":"Nighttime"},{"t":1159,"v":16.73,"label":"Daytime"}]
},
"vconcat": [
{
"width": 1043, "height": 656,
"resolve": {"axis": {"y": "independent"}},
"layer": [
{
"data": {"name": "temp"},
"mark": {"type": "line", "clip": true, "strokeJoin": "round"},
"encoding": {
"x": {"field": "t", "type": "quantitative", "scale": {"domain": [-5, 1425], "nice": false, "zero": false},
 "axis": {"values": [0,100,200,300,400,500,600,700,800,900,1000,1100,1200,1300,1400], "labelExpr": "floor(((datum.value+1140)%1440)/60) + ':' + (((datum.value+1140)%60) < 10 ? '0' : '') + ((datum.value+1140)%60)", "labelAngle": -90, "labelAlign": "right", "labelBaseline": "middle", "labelPadding": 16, "ticks": false, "domainColor": "black", "domainWidth": 2, "labelFontSize": 29.5, "labelFlush": false, "labelOverlap": false, "labelBound": false, "title": null}},
"y": {"field": "v", "type": "quantitative", "scale": {"domain": [-15, 20], "nice": false, "zero": false},
 "axis": {"orient": "left", "values": [-15,-10,-5,0,5,10,15,20], "labelExpr": "'' + datum.value", "tickSize": 10, "tickWidth": 2, "tickColor": "black", "domainColor": "black", "domainWidth": 2, "labelPadding": 19, "labelFontSize": 29.5, "title": "Air temperature (°C,", "titleFontSize": 43, "titleFontWeight": "bold", "titleAngle": 270, "titleX": -99.2, "titleY": 652, "titleAlign": "left", "titleBaseline": "alphabetic"}},
"color": {"field": "s", "type": "nominal", "scale": {"domain": ["P","S","E","W","N","B"], "range": ["#000000","#ff3010","#ebd96e","#a6a6a6","#aadc91","#6c6cff"]}, "legend": null},
"strokeWidth": {"condition": {"test": "datum.s === 'P'", "value": 4.8}, "value": 4.1}
}
},
{
"data": {"values": [{"v": 20}]},
"mark": {"type": "rule", "stroke": "black", "strokeWidth": 2},
"encoding": {
"y": {"field": "v", "type": "quantitative", "axis": {"orient": "left", "domain": false, "ticks": false, "labels": false, "title": "relative values", "titleFontSize": 31, "titleFontWeight": "bold", "titleAngle": 270, "titleX": -99.2, "titleY": 236, "titleAlign": "left", "titleBaseline": "alphabetic"}}
}
},
{
"data": {"name": "notes"},
"mark": {"type": "text", "fontSize": 42, "fontStyle": "italic", "align": "center", "baseline": "alphabetic", "color": "black"},
"encoding": {
"x": {"field": "t", "type": "quantitative"},
"y": {"field": "v", "type": "quantitative", "axis": {"orient": "left", "domain": false, "ticks": false, "labels": false, "title": ")", "titleFontSize": 43, "titleFontWeight": "bold", "titleAngle": 270, "titleX": -99.2, "titleY": 22, "titleAlign": "left", "titleBaseline": "alphabetic"}},
"text": {"field": "label"}
}
}
]
},
{
"width": 1043, "height": 656,
"resolve": {"axis": {"y": "independent"}},
"layer": [
{
"data": {"name": "hum"},
"mark": {"type": "line", "clip": true, "strokeJoin": "round"},
"encoding": {
"x": {"field": "t", "type": "quantitative", "scale": {"domain": [-5, 1425], "nice": false, "zero": false},
 "axis": {"values": [0,100,200,300,400,500,600,700,800,900,1000,1100,1200,1300,1400], "labelExpr": "floor(((datum.value+1140)%1440)/60) + ':' + (((datum.value+1140)%60) < 10 ? '0' : '') + ((datum.value+1140)%60)", "labelAngle": -90, "labelAlign": "right", "labelBaseline": "middle", "labelPadding": 16, "ticks": false, "domainColor": "black", "domainWidth": 2, "labelFontSize": 29.5, "labelFlush": false, "labelOverlap": false, "labelBound": false, "title": "Time (h)", "titleFontSize": 42, "titleFontWeight": "bold", "titleX": 514, "titleY": 150, "titleAlign": "center", "titleBaseline": "alphabetic"}},
"y": {"field": "v", "type": "quantitative", "scale": {"domain": [-20, 30], "nice": false, "zero": false},
 "axis": {"orient": "left", "values": [-20,-15,-10,-5,0,5,10,15,20,25,30], "labelExpr": "'' + datum.value", "tickSize": 10, "tickWidth": 2, "tickColor": "black", "domainColor": "black", "domainWidth": 2, "labelPadding": 19, "labelFontSize": 29.5, "title": "Relative air humidity (%,", "titleFontSize": 43, "titleFontWeight": "bold", "titleAngle": 270, "titleX": -99.2, "titleY": 693.7, "titleAlign": "left", "titleBaseline": "alphabetic"}},
"color": {"field": "s", "type": "nominal", "scale": {"domain": ["P","S","E","W","N","B"], "range": ["#000000","#ff3010","#ebd96e","#a6a6a6","#aadc91","#6c6cff"]},
 "legend": {"orient": "none", "legendX": 25, "legendY": 15, "title": null, "symbolType": "stroke", "symbolSize": 2401, "symbolStrokeWidth": 4.2, "labelFontSize": 32.5, "labelColor": "black", "labelOffset": 11, "rowPadding": 6.3, "padding": 0, "labelLimit": 0, "labelExpr": "datum.label == 'P' ? 'Plateau' : datum.label == 'S' ? 'S-facing slopes' : datum.label == 'E' ? 'E-facing slopes' : datum.label == 'W' ? 'W-facing slopes' : datum.label == 'N' ? 'N-facing slopes' : 'Bottoms'"}},
"strokeWidth": {"condition": {"test": "datum.s === 'P'", "value": 4.8}, "value": 4.1}
}
},
{
"data": {"values": [{"v": 30}]},
"mark": {"type": "rule", "stroke": "black", "strokeWidth": 2},
"encoding": {
"y": {"field": "v", "type": "quantitative", "axis": {"orient": "left", "domain": false, "ticks": false, "labels": false, "title": "relative values", "titleFontSize": 31, "titleFontWeight": "bold", "titleAngle": 270, "titleX": -99.2, "titleY": 188, "titleAlign": "left", "titleBaseline": "alphabetic"}}
}
},
{
"data": {"values": [{"v": 30}]},
"mark": {"type": "rule", "stroke": "black", "strokeWidth": 0, "opacity": 0},
"encoding": {
"y": {"field": "v", "type": "quantitative", "axis": {"orient": "left", "domain": false, "ticks": false, "labels": false, "title": ")", "titleFontSize": 43, "titleFontWeight": "bold", "titleAngle": 270, "titleX": -99.2, "titleY": -25.6, "titleAlign": "left", "titleBaseline": "alphabetic"}}
}
}
]
}
]
}
